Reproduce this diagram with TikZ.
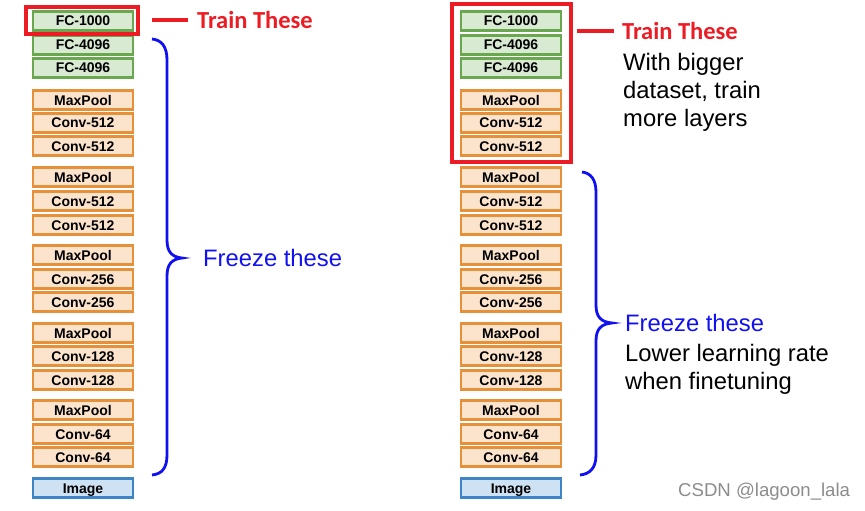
\documentclass[tikz,border=0pt]{standalone}
\usepackage{fontspec}
\setmainfont{Liberation Sans}
\newfontfamily\calib{Carlito}
\definecolor{gbd}{HTML}{6AA84F}
\definecolor{gfl}{HTML}{D9EAD3}
\definecolor{obd}{HTML}{E6913A}
\definecolor{ofl}{HTML}{FCE4CC}
\definecolor{bbd}{HTML}{3D85C6}
\definecolor{bfl}{HTML}{CFE2F3}
\definecolor{myred}{HTML}{EC1C24}
\definecolor{myblue}{HTML}{1010F0}
\begin{document}
\begin{tikzpicture}[x=1pt,y=-1pt,
  layer/.style={draw, line width=2.8pt, minimum width=100pt, minimum height=18.5pt, inner sep=0pt,
     text height=10pt, text depth=0pt,
     font=\fontsize{14}{15}\selectfont\bfseries},
  fcbox/.style={layer, draw=gbd, fill=gfl},
  cvbox/.style={layer, draw=obd, fill=ofl},
  imbox/.style={layer, draw=bbd, fill=bfl},
  redframe/.style={draw=myred, line width=4pt},
  redline/.style={draw=myred, line width=4pt},
  bracepath/.style={draw=myblue, line width=2.8pt},
  traintxt/.style={anchor=west, inner sep=0pt, text=myred, font=\calib\fontsize{24.5}{27}\selectfont\bfseries},
  freezetxt/.style={anchor=west, inner sep=0pt, text=myblue, font=\fontsize{23.8}{27}\selectfont},
  notetxt/.style={anchor=west, inner sep=0pt, align=left, font=\fontsize{23.8}{28}\selectfont},
]
\useasboundingbox (0,0) rectangle (865,511);
\foreach \i/\t/\y/\s in {1/FC-1000/21/fcbox, 2/FC-4096/45/fcbox, 3/FC-4096/68/fcbox,
   4/MaxPool/100/cvbox, 5/Conv-512/123/cvbox, 6/Conv-512/146/cvbox,
   7/MaxPool/177/cvbox, 8/Conv-512/201/cvbox, 9/Conv-512/225/cvbox,
   10/MaxPool/255/cvbox, 11/Conv-256/279/cvbox, 12/Conv-256/302/cvbox,
   13/MaxPool/333/cvbox, 14/Conv-128/356/cvbox, 15/Conv-128/380/cvbox,
   16/MaxPool/410/cvbox, 17/Conv-64/434/cvbox, 18/Conv-64/457/cvbox,
   19/Image/488/imbox}{
  \node[\s] (L\i) at (83,\y) {\t};
  \node[\s] (R\i) at (511,\y) {\t};
}
% left side
\draw[redframe] (26,7) rectangle (138,34);
\coordinate (lra) at (152,20);
\coordinate (lrb) at (188,20);
\draw[redline] (lra) -- (lrb);
\node[traintxt] (ltrain) at (197,20) {Train These};
\coordinate (lbt) at (152,39);
\coordinate (lbm) at (182,258);
\coordinate (lbb) at (152,475);
\draw[bracepath] (lbt) .. controls (162,40) and (167,47) .. (167,60) -- (167,240)
  .. controls (167,252) and (172,257) .. (lbm)
  .. controls (172,259) and (167,264) .. (167,276) -- (167,455)
  .. controls (167,468) and (162,474) .. (lbb);
\node[freezetxt] (lfreeze) at (203,258) {Freeze these};
% right side
\draw[redframe] (452,4) rectangle (571,162);
\coordinate (rra) at (577,31);
\coordinate (rrb) at (614,31);
\draw[redline] (rra) -- (rrb);
\node[traintxt] (rtrain) at (622,31) {Train These};
\node[notetxt] (rnote1) at (623,92) {With bigger\\dataset, train\\more layers};
\coordinate (rbt) at (582,172);
\coordinate (rbm) at (612,323);
\coordinate (rbb) at (580,475);
\draw[bracepath] (rbt) .. controls (591,173) and (596,180) .. (596,192) -- (596,305)
  .. controls (596,317) and (601,322) .. (rbm)
  .. controls (601,324) and (596,329) .. (596,341) -- (596,455)
  .. controls (596,468) and (590,474) .. (rbb);
\node[freezetxt] (rfreeze) at (625,323) {Freeze these};
\node[notetxt] (rnote2) at (625,369) {Lower learning rate\\when finetuning};
\node[anchor=west, inner sep=0pt, text=black!45, font=\fontsize{18.6}{20}\selectfont] (wm) at (678,492) {CSDN @lagoon\_lala};
\end{tikzpicture}
\end{document}
